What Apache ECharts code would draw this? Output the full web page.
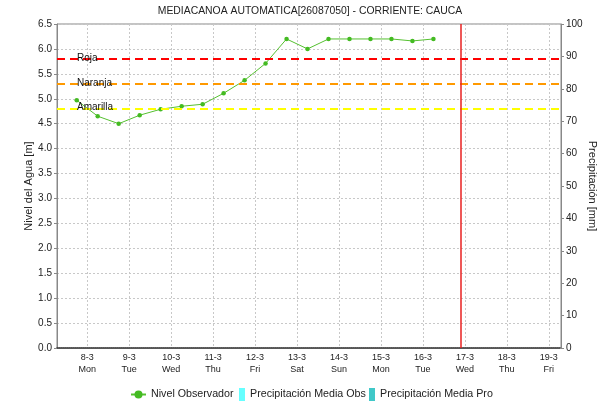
<!DOCTYPE html>
<html>
<head>
<meta charset="utf-8">
<script src="https://cdn.jsdelivr.net/npm/echarts@6/dist/echarts.min.js"></script>
<style>html,body{margin:0;padding:0;background:#fff}#c{width:600px;height:402px}</style>
</head>
<body>
<div id="c"></div>
<script>
// Observed water level: x = day of March (fractional), y = level [m]
const levelDays = [7.75, 8.25, 8.75, 9.25, 9.75, 10.25, 10.75, 11.25, 11.75, 12.25, 12.75, 13.25, 13.75, 14.25, 14.75, 15.25, 15.75, 16.25];
const levelValues = [4.97, 4.65, 4.50, 4.67, 4.79, 4.85, 4.89, 5.11, 5.37, 5.71, 6.20, 6.00, 6.20, 6.20, 6.20, 6.20, 6.16, 6.20];
// Precipitation series (no data in view)
const precipObs = [];
const precipPro = [];
// Alert thresholds
const alertNames = ['Roja', 'Naranja', 'Amarilla'];
const alertValues = [5.8, 5.3, 4.8];
const alertColors = ['#ff0000', '#ff9900', '#ffff00'];
// Current time marker
const nowDay = 16.9;
// Tick labels
const tickDays = [8, 9, 10, 11, 12, 13, 14, 15, 16, 17, 18, 19];
const tickWeekdays = ['Mon', 'Tue', 'Wed', 'Thu', 'Fri', 'Sat', 'Sun', 'Mon', 'Tue', 'Wed', 'Thu', 'Fri'];

const FONT = 'Liberation Sans';
const chart = echarts.init(document.getElementById('c'), null, {renderer: 'canvas'});

const levelData = levelDays.map((d, i) => [d, levelValues[i]]);
const alertLines = alertValues.map((v, i) => ({
  yAxis: v,
  name: alertNames[i],
  lineStyle: {color: alertColors[i], type: [8, 5], width: 2},
  label: {show: true, formatter: alertNames[i], position: 'insideStartTop', distance: [20, -4], color: '#111', fontFamily: FONT, fontSize: 10}
}));
const legendText = {fontFamily: FONT, fontSize: 10.7, color: '#222'};

chart.setOption({
  animation: false,
  textStyle: {fontFamily: FONT},
  title: {
    text: 'MEDIACANOA AUTOMATICA[26087050] - CORRIENTE: CAUCA',
    left: 310, top: 6, textAlign: 'center', padding: 0,
    textStyle: {fontFamily: FONT, fontSize: 10.4, fontWeight: 'normal', color: '#222'}
  },
  legend: [
    {left: 130, top: 389, padding: 0, itemWidth: 15, itemHeight: 10, textStyle: legendText, data: [{name: 'Nivel Observador'}]},
    {left: 239, top: 388, padding: 0, itemWidth: 6, itemHeight: 13, textStyle: legendText, data: [{name: 'Precipitación Media Obs', icon: 'rect'}]},
    {left: 369, top: 388, padding: 0, itemWidth: 6, itemHeight: 13, textStyle: legendText, data: [{name: 'Precipitación Media Pro', icon: 'rect'}]}
  ],
  grid: {left: 57, right: 39, top: 24, bottom: 54, show: true, borderColor: '#888', borderWidth: 1, outerBoundsMode: 'none', containLabel: false},
  xAxis: {
    type: 'value', min: 7.28, max: 19.29, minInterval: 1, maxInterval: 1,
    axisLine: {show: true, onZero: false, lineStyle: {color: '#333', type: [1, 1], width: 1.5}},
    axisTick: {show: false},
    axisLabel: {
      showMinLabel: false, showMaxLabel: false, color: '#222', fontSize: 9, fontFamily: FONT, lineHeight: 12, margin: 4,
      formatter: v => {
        const i = tickDays.indexOf(Math.round(v));
        if (i < 0 || Math.abs(v - Math.round(v)) > 1e-6) return '';
        return tickDays[i] + '-3\n' + tickWeekdays[i];
      }
    },
    splitLine: {show: true, lineStyle: {color: '#c8c8c8', type: [2, 2]}}
  },
  yAxis: [
    {
      type: 'value', min: 0, max: 6.5, interval: 0.5, position: 'left',
      name: 'Nivel del Agua [m]', nameLocation: 'middle', nameGap: 23, nameMoveOverlap: false,
      nameTextStyle: {fontFamily: FONT, fontSize: 11, color: '#222'},
      axisLine: {show: true, lineStyle: {color: '#888'}},
      axisTick: {show: true, length: 3, lineStyle: {color: '#888'}},
      axisLabel: {color: '#222', fontSize: 10, fontFamily: FONT, margin: 5, formatter: v => v.toFixed(1)},
      splitLine: {show: true, lineStyle: {color: '#c8c8c8', type: [2, 2]}}
    },
    {
      type: 'value', min: 0, max: 100, interval: 10, position: 'right',
      name: 'Precipitación [mm]', nameLocation: 'middle', nameGap: 26, nameRotate: -90, nameMoveOverlap: false,
      nameTextStyle: {fontFamily: FONT, fontSize: 11, color: '#222'},
      axisLine: {show: true, lineStyle: {color: '#888'}},
      axisTick: {show: true, length: 3, lineStyle: {color: '#888'}},
      axisLabel: {color: '#222', fontSize: 10, fontFamily: FONT, margin: 5},
      splitLine: {show: false}
    }
  ],
  series: [
    {
      name: 'Nivel Observador', type: 'line', yAxisIndex: 0,
      data: levelData,
      symbol: 'circle', symbolSize: 4.5,
      itemStyle: {color: '#44bb22'},
      lineStyle: {color: '#55c030', width: 1},
      markLine: {
        silent: true, symbol: 'none', animation: false,
        data: alertLines.concat([{
          xAxis: nowDay,
          lineStyle: {color: '#e82020', type: 'solid', width: 1.5},
          label: {show: false}
        }])
      }
    },
    {name: 'Precipitación Media Obs', type: 'bar', yAxisIndex: 1, data: precipObs, itemStyle: {color: '#66ffff'}},
    {name: 'Precipitación Media Pro', type: 'bar', yAxisIndex: 1, data: precipPro, itemStyle: {color: '#40c8c8'}}
  ]
});
</script>
</body>
</html>
